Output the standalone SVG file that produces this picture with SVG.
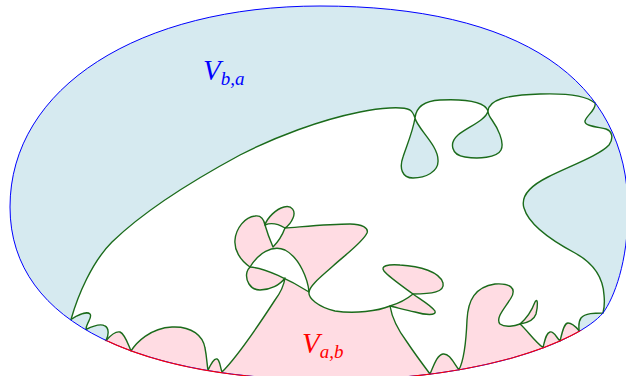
<svg xmlns="http://www.w3.org/2000/svg" width="626" height="376" viewBox="0 0 626 376">
<style>
.g{fill:none;stroke:#1b6b1b;stroke-width:1.4;stroke-linejoin:round;stroke-linecap:round}
.pk{fill:#ffdce3}
.wh{fill:#ffffff}
.lbl{font-family:"Liberation Serif","DejaVu Serif",serif;font-style:italic}
</style>
<defs>
<clipPath id="oc"><path d="M10,207 C10,87 140,6 320,6 C520,6 628,80 628,210 C628,262 614,298 603,313 C578,342 480,381 326,380 C150,379 10,328 10,207 Z"/></clipPath>
<clipPath id="low"><polygon points="0,342.7 626,329.5 626,400 0,400"/></clipPath>
</defs>
<g id="regions">
<path fill="#d6eaf0" d="M10,207 C10,87 140,6 320,6 C520,6 628,80 628,210 C628,262 614,298 603,313 C578,342 480,381 326,380 C150,379 10,328 10,207 Z"/>
<g clip-path="url(#oc)">
<path class="wh" fill-rule="evenodd" d="M106,340.5 C109,335 109,328 105,326 C100,323 91,327 86,329.5 C86,323 93,317 90,314 C87,311 78,315 71,319.5 C78,295 92,262 112,242 C145,210 190,182 240,155 C275,137 320,120 360,112 C380,108 402,106 410,110 C413,112 414,115 415,118 C417,128 438,145 438,160 C439,172 425,178 413,178 C402,178 399,168 403,157 C407,145 413,131 415,118 C416,108 422,101 440,100 C462,99 484,100 488,111 C486,120 468,127 458,135 C449,143 451,155 465,157 C478,159 497,158 501,150 C505,142 497,127 492,120 C489,116 488,113 488,111 C489,100 505,95 540,94 C570,93 588,97 595,103 C597,109 586,116 585,121 C584,126 598,127 606,129 C612,131 614,138 609,145 C600,155 570,166 548,177 C532,185 520,195 524,208 C528,222 545,237 575,253 C595,264 603,278 604,295 C605,304 604,309 603,313 C595,313 585,313 581,318 C578,322 579,326 579,330.5 L610,400 L90,400 Z"/>
<path class="pk" d="M106,340.5 C110,336 116,331 120,332 C125,334 128,344 131,351 C136,343 150,328 172,327 C192,326 203,336 205,348 C207,358 207,365 208,370.2 C211,364 214,358 217,359 C220,360 220,367 222,372 C236,358 262,320 275,300 C281,292 284,285 285,278 C280,285 270,290 260,290 C250,290 245,280 247,272 C248,269 249,268 250,267 C240,260 234,250 235,240 C236,228 245,217 255,216 C261,215 264,220 265,225 C267,218 276,209 284,207 C292,205 296,211 293,218 C291,223 288,226 285,228 C300,227 330,224 350,224 C362,224 369,228 367,233 C363,242 345,255 333,266 C322,276 310,285 309,292 C308,298 318,307 335,311 C355,314 378,311 390,306 C392,318 398,330 407,342 C415,354 424,366 430,374 C434,365 437,355 443,354 C450,353 454,364 459,369.7 C463,362 466,345 467,320 C468,300 475,287 495,284 C510,283 517,288 511,298 C505,308 495,318 500,324 C505,328 515,326 520,324 C527,330 535,342 543,347.5 C545,340 546,333 550,332 C554,331 556,337 560,341 C562,333 564,323 568,323 C572,323 576,327 579,330.5 L610,400 L90,400 Z"/>
<path class="wh" d="M265,225 C272,222 280,225 285,228 C282,236 277,243 273,247 C270,240 267,232 265,225 Z"/>
<path class="wh" d="M250,267 C265,268 290,280 309,292 C308,280 300,258 285,250 C272,244 258,254 250,267 Z"/>
<path class="pk" d="M413,294 C405,288 390,278 384,271 C380,266 388,264 400,265 C420,266 440,272 443,283 C445,292 432,294 413,294 Z"/>
<path class="pk" d="M413,294 C420,299 432,306 435,311 C437,316 425,315 415,312 C405,310 395,307 390,306 C400,303 407,299 413,294 Z"/>
<path class="pk" d="M520,324 C527,318 532,310 535,302 C538,297 538,306 536,314 C534,320 527,323 520,324 Z"/>
</g>
</g>
<g id="connectors">
<path id="upper-interface" class="g" d="M106,340.5 C109,335 109,328 105,326 C100,323 91,327 86,329.5 C86,323 93,317 90,314 C87,311 78,315 71,319.5 C78,295 92,262 112,242 C145,210 190,182 240,155 C275,137 320,120 360,112 C380,108 402,106 410,110 C413,112 414,115 415,118 C417,128 438,145 438,160 C439,172 425,178 413,178 C402,178 399,168 403,157 C407,145 413,131 415,118 C416,108 422,101 440,100 C462,99 484,100 488,111 C486,120 468,127 458,135 C449,143 451,155 465,157 C478,159 497,158 501,150 C505,142 497,127 492,120 C489,116 488,113 488,111 C489,100 505,95 540,94 C570,93 588,97 595,103 C597,109 586,116 585,121 C584,126 598,127 606,129 C612,131 614,138 609,145 C600,155 570,166 548,177 C532,185 520,195 524,208 C528,222 545,237 575,253 C595,264 603,278 604,295 C605,304 604,309 603,313 C595,313 585,313 581,318 C578,322 579,326 579,330.5"/>
<path id="lower-interface" class="g" d="M106,340.5 C110,336 116,331 120,332 C125,334 128,344 131,351 C136,343 150,328 172,327 C192,326 203,336 205,348 C207,358 207,365 208,370.2 C211,364 214,358 217,359 C220,360 220,367 222,372 C236,358 262,320 275,300 C281,292 284,285 285,278 C280,285 270,290 260,290 C250,290 245,280 247,272 C248,269 249,268 250,267 C240,260 234,250 235,240 C236,228 245,217 255,216 C261,215 264,220 265,225 C267,218 276,209 284,207 C292,205 296,211 293,218 C291,223 288,226 285,228 C300,227 330,224 350,224 C362,224 369,228 367,233 C363,242 345,255 333,266 C322,276 310,285 309,292 C308,298 318,307 335,311 C355,314 378,311 390,306 C392,318 398,330 407,342 C415,354 424,366 430,374 C434,365 437,355 443,354 C450,353 454,364 459,369.7 C463,362 466,345 467,320 C468,300 475,287 495,284 C510,283 517,288 511,298 C505,308 495,318 500,324 C505,328 515,326 520,324 C527,330 535,342 543,347.5 C545,340 546,333 550,332 C554,331 556,337 560,341 C562,333 564,323 568,323 C572,323 576,327 579,330.5"/>
<path class="g" d="M265,225 C272,222 280,225 285,228 C282,236 277,243 273,247 C270,240 267,232 265,225 Z"/>
<path class="g" d="M250,267 C265,268 290,280 309,292 C308,280 300,258 285,250 C272,244 258,254 250,267 Z"/>
<path class="g" d="M413,294 C405,288 390,278 384,271 C380,266 388,264 400,265 C420,266 440,272 443,283 C445,292 432,294 413,294 Z"/>
<path class="g" d="M413,294 C420,299 432,306 435,311 C437,316 425,315 415,312 C405,310 395,307 390,306 C400,303 407,299 413,294 Z"/>
<path class="g" d="M520,324 C527,318 532,310 535,302 C538,297 538,306 536,314 C534,320 527,323 520,324 Z"/>
</g>
<g id="boundary">
<path fill="none" stroke="#0000ff" stroke-width="1" d="M10,207 C10,87 140,6 320,6 C520,6 628,80 628,210 C628,262 614,298 603,313 C578,342 480,381 326,380 C150,379 10,328 10,207 Z"/>
<path fill="none" stroke="#ff0000" stroke-width="1.1" clip-path="url(#low)" d="M10,207 C10,87 140,6 320,6 C520,6 628,80 628,210 C628,262 614,298 603,313 C578,342 480,381 326,380 C150,379 10,328 10,207 Z"/>
</g>
<g id="label-vba"><text class="lbl" x="203" y="80" font-size="29" fill="#0000ff">V<tspan font-size="19" dy="5">b,a</tspan></text></g>
<g id="label-vab"><text class="lbl" x="302" y="353" font-size="29" fill="#ff0000">V<tspan font-size="19" dy="5">a,b</tspan></text></g>
</svg>
